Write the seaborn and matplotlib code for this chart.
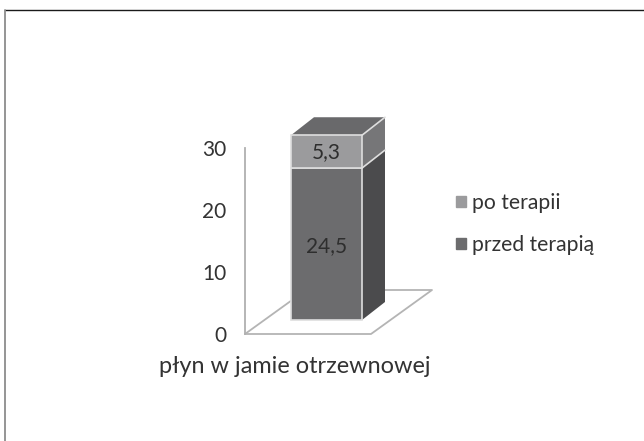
import matplotlib
matplotlib.use("Agg")
import matplotlib.pyplot as plt
import seaborn as sns
import pandas as pd
from matplotlib.lines import Line2D
from matplotlib.patches import Polygon, Rectangle
from matplotlib.transforms import ScaledTranslation

categories = ["płyn w jamie otrzewnowej"]
przed_terapia = [24.5]
po_terapii = [5.3]
value_labels_przed = ["24,5"]
value_labels_po = ["5,3"]
y_ticks = [0, 10, 20, 30]

W, H, DPI = 644, 441, 100
sns.set_theme(style="white")
plt.rcParams["font.family"] = ["Lato", "DejaVu Sans"]

fig = plt.figure(figsize=(W / DPI, H / DPI), dpi=DPI, facecolor="white")
L, R, T, B = 245, 371, 148, 334
ax = fig.add_axes([L / W, 1 - B / H, (R - L) / W, (B - T) / H])
ax.patch.set_alpha(0)

df = pd.DataFrame({"kat": categories, "przed": przed_terapia, "po": po_terapii})
TXT = "#333333"
C_FRONT, C_FRONT2 = "#6c6c6e", "#9b9b9d"
C_SIDE, C_SIDE2, C_TOP = "#4b4b4d", "#767678", "#69696b"
EDGE = "#dedede"

sns.barplot(data=df, x="kat", y="przed", color=C_FRONT, saturation=1, width=0.8,
            ax=ax, label="przed terapią", edgecolor=EDGE, linewidth=1.2, zorder=4)
sns.barplot(data=df, x="kat", y="po", bottom=df["przed"], color=C_FRONT2, saturation=1, width=0.8,
            ax=ax, label="po terapii", edgecolor=EDGE, linewidth=1.2, zorder=4)

px_x = 88.75
x_left = -81.5 / px_x
ax.set_xlim(x_left, x_left + (R - L) / px_x)
ax.set_ylim(0, 30)
px_y = (B - T) / 30

# 3D look: bars lifted off the floor, with side and top faces
lift = ax.transData + ScaledTranslation(0, 14 / DPI, fig.dpi_scale_trans)
ddx, ddy = 23 / px_x, 18 / px_y
bars = [p for p in ax.patches if isinstance(p, Rectangle)]
side_cols = [C_SIDE, C_SIDE2]
for bar, col in zip(bars, side_cols):
    bar.set_transform(lift)
    bar.set_clip_on(False)
    x1 = bar.get_x() + bar.get_width()
    y0, y1 = bar.get_y(), bar.get_y() + bar.get_height()
    ax.add_patch(Polygon([(x1, y0), (x1 + ddx, y0 + ddy), (x1 + ddx, y1 + ddy), (x1, y1)],
                         closed=True, facecolor=col, edgecolor="none",
                         transform=lift, clip_on=False, zorder=3))
    ax.plot([x1, x1 + ddx], [y1, y1 + ddy], color=EDGE, lw=1.2, transform=lift,
            clip_on=False, zorder=3.5)
top = bars[-1]
x0, x1 = top.get_x(), top.get_x() + top.get_width()
yt = top.get_y() + top.get_height()
ax.add_patch(Polygon([(x0, yt), (x0 + ddx, yt + ddy), (x1 + ddx, yt + ddy), (x1, yt)],
                     closed=True, facecolor=C_TOP, edgecolor="none",
                     transform=lift, clip_on=False, zorder=3))

xc = bars[0].get_x() + bars[0].get_width() / 2
ax.text(xc, przed_terapia[0] / 2 - 0.4, value_labels_przed[0], transform=lift, ha="center", va="center",
        fontsize=15, color="#2e2e2e", zorder=6)
ax.text(xc, przed_terapia[0] + po_terapii[0] / 2 - 0.1, value_labels_po[0], transform=lift, ha="center", va="center",
        fontsize=15, color="#2e2e2e", zorder=6)

# floor
FL = "#b4b4b4"
fdx, fdy = 61 / px_x, 44 / px_y
xa, xb = ax.get_xlim()
ax.plot([xa, xb, xb + fdx, x1 + ddx], [0, 0, fdy, fdy], color=FL, lw=1.3, clip_on=False, zorder=1)
ax.plot([xa, x0], [0, (x0 - xa) * fdy / fdx], color=FL, lw=1.3, clip_on=False, zorder=1)

# axes
sns.despine(ax=ax, top=True, right=True, bottom=True, left=False)
ax.spines["left"].set_color("#b0b0b0")
ax.spines["left"].set_linewidth(1.3)
ax.set_yticks(y_ticks)
ax.tick_params(axis="y", length=0, pad=13.5, labelsize=15, labelcolor=TXT)
ax.set_xticks([(295 - L) / px_x + x_left], categories)
ax.tick_params(axis="x", length=0, pad=15.5, labelsize=16.9, labelcolor=TXT)
ax.set_xlabel("")
ax.set_ylabel("")

# legend
handles, labels = ax.get_legend_handles_labels()
order = [labels.index("po terapii"), labels.index("przed terapią")]
leg = ax.legend([Rectangle((0, 0), 1, 1, color=C_FRONT2), Rectangle((0, 0), 1, 1, color=C_FRONT)],
                [labels[i] for i in order], loc="center left",
                bbox_to_anchor=(456 / W, 1 - 224 / H), bbox_transform=fig.transFigure,
                frameon=False, fontsize=15.2, labelcolor=TXT, handlelength=0.48, handleheight=0.48,
                handletextpad=0.28, labelspacing=1.05, borderpad=0, borderaxespad=0)

# outer frame
fig.add_artist(Line2D([5 / W, 1], [1 - 9.5 / H] * 2, color="#1a1a1a", lw=1.0, transform=fig.transFigure))
fig.add_artist(Line2D([5 / W] * 2, [0, 1 - 9.5 / H], color="#8c8c8c", lw=1.3, transform=fig.transFigure))

fig.savefig("out.png", dpi=DPI)
